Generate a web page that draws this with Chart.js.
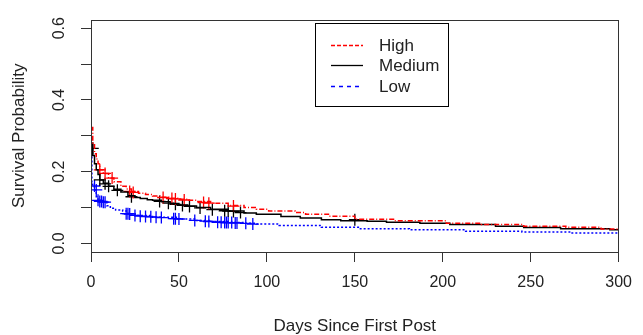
<!DOCTYPE html>
<html>
<head>
<meta charset="utf-8">
<script src="https://cdn.jsdelivr.net/npm/chart.js@4.4.0/dist/chart.umd.min.js"></script>
<style>
  html, body { margin: 0; padding: 0; background: #fff; }
</style>
</head>
<body>
<canvas id="survChart" width="643" height="335"></canvas>
<script>
// group names
var groups = ['High', 'Medium', 'Low'];

// Kaplan-Meier steps (days, survival)
var highDays = [0, 1, 2, 3, 4, 5, 7, 10, 13, 17, 20, 23, 27, 31, 35, 40, 45, 50, 55, 60, 68, 78, 87, 94, 101, 116, 122, 135, 150, 172, 202, 222, 246, 270, 290, 300];
var highSurv = [0.323, 0.28, 0.25, 0.235, 0.222, 0.205, 0.195, 0.182, 0.172, 0.159, 0.152, 0.145, 0.14, 0.136, 0.132, 0.129, 0.126, 0.123, 0.12, 0.117, 0.112, 0.106, 0.1, 0.095, 0.09, 0.086, 0.081, 0.076, 0.067, 0.063, 0.056, 0.053, 0.048, 0.045, 0.04, 0.04];

var medDays = [0, 1, 2, 3, 4, 5, 7, 10, 13, 17, 21, 25, 28, 32, 35, 40, 45, 50, 55, 60, 68, 78, 87, 94, 108, 119, 131, 142, 157, 168, 187, 204, 230, 246, 267, 295, 300];
var medSurv = [0.276, 0.245, 0.222, 0.205, 0.192, 0.177, 0.168, 0.159, 0.151, 0.143, 0.133, 0.128, 0.125, 0.122, 0.12, 0.116, 0.111, 0.107, 0.104, 0.1, 0.095, 0.09, 0.085, 0.081, 0.075, 0.071, 0.066, 0.063, 0.062, 0.059, 0.056, 0.053, 0.048, 0.044, 0.041, 0.038, 0.038];

var lowDays = [0, 0.5, 1, 2, 3, 4, 7, 9, 11, 14, 18, 21, 25, 35, 49, 60, 68, 80, 87, 94, 107, 131, 152, 181, 213, 245, 273, 300];
var lowSurv = [0.24, 0.167, 0.158, 0.149, 0.13, 0.12, 0.115, 0.105, 0.098, 0.093, 0.09, 0.083, 0.078, 0.073, 0.068, 0.064, 0.061, 0.058, 0.056, 0.054, 0.05, 0.045, 0.041, 0.038, 0.034, 0.032, 0.029, 0.029];

// censoring marks (+)
var highCensDays = [5, 8, 12, 22, 24, 41, 46, 48, 53, 64, 67, 81];
var highCensSurv = [0.205, 0.195, 0.182, 0.145, 0.142, 0.128, 0.125, 0.124, 0.121, 0.114, 0.112, 0.104];
var medCensDays = [1, 5, 8, 10, 15, 23, 39, 44, 48, 52, 56, 62, 69, 76, 78, 81, 85, 150];
var medCensSurv = [0.265, 0.177, 0.166, 0.159, 0.148, 0.13, 0.117, 0.112, 0.109, 0.106, 0.103, 0.099, 0.094, 0.091, 0.09, 0.089, 0.086, 0.066];
var lowCensDays = [2, 3, 4, 5, 6, 7, 8, 20, 21, 22, 25, 28, 31, 34, 37, 40, 47, 48, 50, 59, 65, 67, 72, 74, 76, 77, 78, 80, 82, 83, 88, 92];
var lowCensSurv = [0.16, 0.149, 0.12, 0.117, 0.117, 0.115, 0.115, 0.083, 0.083, 0.082, 0.078, 0.076, 0.075, 0.074, 0.073, 0.072, 0.069, 0.069, 0.068, 0.064, 0.062, 0.061, 0.059, 0.059, 0.058, 0.058, 0.058, 0.058, 0.057, 0.057, 0.056, 0.054];

// axis ticks
var xTicks = [0, 50, 100, 150, 200, 250, 300];
var yTicks = [0, 0.1, 0.2, 0.3, 0.4, 0.5, 0.6];

function pts(xs, ys) {
  return xs.map(function(x, i) { return { x: x, y: ys[i] }; });
}

var colors = ['#ff0000', '#000000', '#0000ff'];
var dashes = [[5, 2, 1, 2], [], [2, 2]];
var legendDashes = [[4, 2], [], [4, 4]];
var FONT = 'Arial, "Liberation Sans", sans-serif';

function curve(i, xs, ys) {
  return {
    label: groups[i], data: pts(xs, ys), showLine: true, stepped: true,
    borderColor: colors[i], borderWidth: 1.5, borderDash: dashes[i],
    pointRadius: 0, pointHoverRadius: 0, fill: false
  };
}
function marks(i, xs, ys) {
  return {
    label: groups[i] + ' censored', data: pts(xs, ys), showLine: false,
    pointStyle: 'cross', pointRadius: 6, pointBorderWidth: 1.3,
    borderColor: colors[i], backgroundColor: colors[i]
  };
}

// R style box + legend drawn inside the plot region
var boxAndLegend = {
  id: 'boxAndLegend',
  afterDraw: function(chart) {
    var ctx = chart.ctx, a = chart.chartArea;
    ctx.save();
    ctx.strokeStyle = '#333';
    ctx.lineWidth = 1;
    ctx.strokeRect(Math.round(a.left) + 0.5, Math.round(a.top) + 0.5,
      Math.round(a.right - a.left) - 1, Math.round(a.bottom - a.top));

    // legend
    var lx = 315.5, ly = 23.5, lw = 133, lh = 83;
    ctx.fillStyle = '#fff';
    ctx.fillRect(lx, ly, lw, lh);
    ctx.strokeStyle = '#000';
    ctx.strokeRect(lx, ly, lw, lh);
    ctx.font = '17px ' + FONT;
    ctx.textBaseline = 'middle';
    var rows = [45, 65, 86];
    groups.forEach(function(g, i) {
      ctx.save();
      ctx.beginPath();
      ctx.setLineDash(legendDashes[i]);
      ctx.strokeStyle = colors[i];
      ctx.lineWidth = 1.3;
      ctx.moveTo(331, rows[i] + 0.5);
      ctx.lineTo(363, rows[i] + 0.5);
      ctx.stroke();
      ctx.restore();
      ctx.fillStyle = '#222';
      ctx.fillText(g, 379, rows[i] + 1);
    });
    ctx.restore();
  }
};

var ctx = document.getElementById('survChart').getContext('2d');
var survChart = new Chart(ctx, {
  type: 'scatter',
  data: {
    datasets: [
      curve(0, highDays, highSurv),
      curve(1, medDays, medSurv),
      curve(2, lowDays, lowSurv),
      marks(0, highCensDays, highCensSurv),
      marks(1, medCensDays, medCensSurv),
      marks(2, lowCensDays, lowCensSurv)
    ]
  },
  options: {
    responsive: false,
    animation: false,
    devicePixelRatio: 1,
    layout: { padding: { left: 0, right: 15, top: 15, bottom: 0 } },
    plugins: { legend: { display: false }, tooltip: { enabled: false } },
    scales: {
      x: {
        type: 'linear', min: 0, max: 300,
        afterBuildTicks: function(s) { s.ticks = xTicks.map(function(v) { return { value: v }; }); },
        afterFit: function(s) { s.height = 83; },
        border: { display: false },
        grid: { display: true, drawOnChartArea: false, drawTicks: true, tickLength: 10, color: '#333' },
        ticks: { autoSkip: false, maxRotation: 0, padding: 11, color: '#222', font: { family: FONT, size: 16 } },
        title: { display: true, text: 'Days Since First Post', color: '#222',
          font: { family: FONT, size: 17, lineHeight: 1 }, padding: { top: 0, bottom: 0 } }
      },
      y: {
        type: 'linear', min: -0.024, max: 0.624,
        afterBuildTicks: function(s) { s.ticks = yTicks.map(function(v) { return { value: v }; }); },
        afterFit: function(s) { s.width = 91; },
        border: { display: false },
        grid: { display: true, drawOnChartArea: false, drawTicks: true, tickLength: 10, color: '#333' },
        ticks: {
          autoSkip: false, minRotation: 90, maxRotation: 90, crossAlign: 'center', padding: 10,
          color: '#222', font: { family: FONT, size: 16 },
          callback: function(v) { return Math.round(v * 10) % 2 === 0 ? v.toFixed(1) : ''; }
        },
        title: { display: true, text: 'Survival Probability', color: '#222',
          font: { family: FONT, size: 17 }, padding: { top: 9, bottom: 0 } }
      }
    }
  },
  plugins: [boxAndLegend]
});
</script>
</body>
</html>
